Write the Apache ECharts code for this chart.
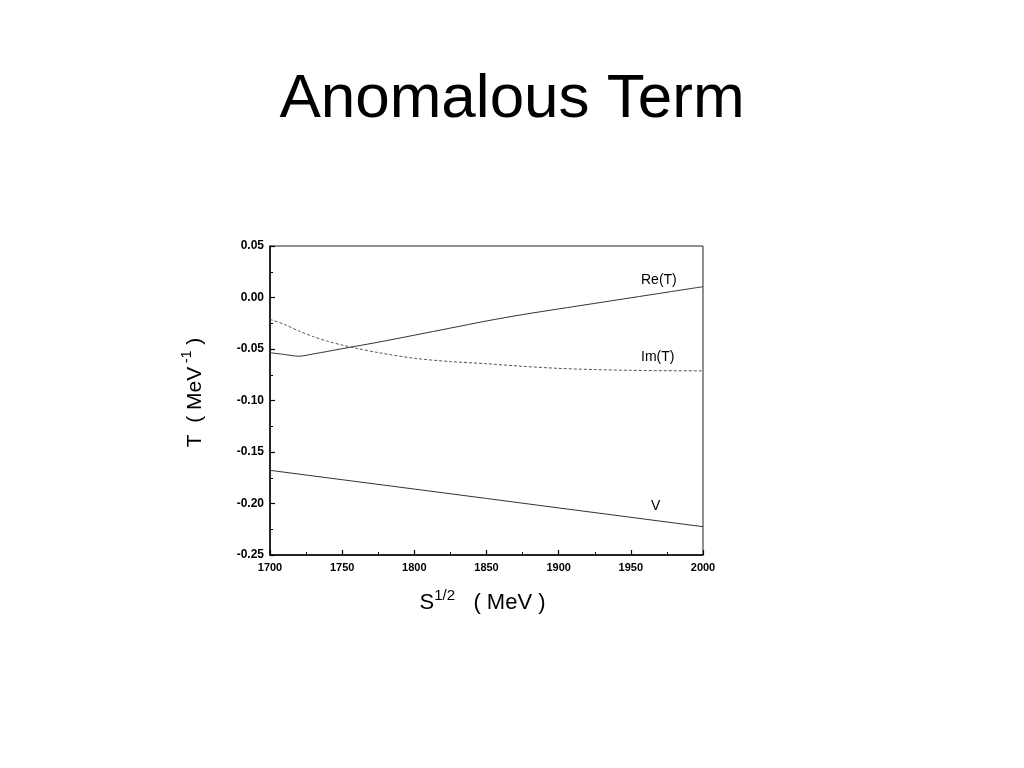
<!DOCTYPE html>
<html>
<head>
<meta charset="utf-8">
<script src="https://cdn.jsdelivr.net/npm/echarts@6/dist/echarts.min.js"></script>
<style>
html,body{margin:0;padding:0;background:#fff;}
#c{width:1024px;height:768px;}
</style>
</head>
<body>
<div id="c"></div>
<script>
// Data
const xRe = [1700,1710,1720,1730,1740,1750,1760,1775,1800,1825,1850,1875,1900,1925,1950,1975,2000];
const reT = [-0.0536,-0.0553,-0.0570,-0.0548,-0.0523,-0.0497,-0.0472,-0.0434,-0.0366,-0.0297,-0.0228,-0.0166,-0.0111,-0.0057,-0.0003,0.0051,0.0105];
const imT = [-0.0212,-0.0262,-0.0325,-0.0380,-0.0425,-0.0462,-0.0494,-0.0535,-0.0590,-0.0622,-0.0643,-0.0668,-0.0688,-0.0700,-0.0707,-0.0711,-0.0712];
const xV = [1700,1750,1800,1850,1900,1950,2000];
const vT = [-0.1678,-0.1769,-0.1860,-0.1951,-0.2043,-0.2134,-0.2225];
const xTicks = {min:1700, max:2000, step:50};
const yTicks = {min:-0.25, max:0.05, step:0.05};
const titleText = 'Anomalous Term';
const seriesLabels = ['Re(T)','Im(T)','V'];

const FONT = '"Liberation Sans", Arial, Helvetica, sans-serif';
const zip = (xs, ys) => xs.map((x,i)=>[x, ys[i]]);

const chart = echarts.init(document.getElementById('c'));
chart.setOption({
  animation:false,
  backgroundColor:'#fff',
  title:{
    text:titleText, left:'center', top:64,
    textStyle:{fontFamily:FONT, fontSize:62, fontWeight:'normal', color:'#000'}
  },
  grid:{left:270, right:321, top:246, bottom:213, show:true, borderColor:'#222', borderWidth:1, backgroundColor:'transparent'},
  xAxis:{
    type:'value', min:xTicks.min, max:xTicks.max, interval:xTicks.step,
    axisLine:{onZero:false, lineStyle:{color:'#000', width:1.5}},
    axisTick:{inside:true, length:5, lineStyle:{color:'#000', width:1.2}},
    minorTick:{show:true, splitNumber:2, length:3, lineStyle:{color:'#000', width:1}},
    splitLine:{show:false},
    axisLabel:{fontFamily:FONT, fontSize:11, fontWeight:'bold', color:'#000', margin:7,
      formatter:v=>String(v)},
    name:'{s|S}{sup|1/2}{s|   ( MeV )}',
    nameLocation:'middle', nameGap:33,
    nameTextStyle:{padding:[0,8,0,0], rich:{
      s:{fontFamily:FONT, fontSize:22, color:'#000', verticalAlign:'bottom', lineHeight:26},
      sup:{fontFamily:FONT, fontSize:15, color:'#000', verticalAlign:'top', lineHeight:26, padding:[0,0,11,0]}
    }}
  },
  yAxis:{
    type:'value', min:yTicks.min, max:yTicks.max, interval:yTicks.step,
    axisLine:{onZero:false, lineStyle:{color:'#000', width:1.5}},
    axisTick:{inside:true, length:5, lineStyle:{color:'#000', width:1.2}},
    minorTick:{show:true, splitNumber:2, length:3, lineStyle:{color:'#000', width:1}},
    splitLine:{show:false},
    axisLabel:{fontFamily:FONT, fontSize:12, fontWeight:'bold', color:'#000', margin:6,
      formatter:v=>v.toFixed(2)},
    name:'{s|T  ( MeV}{sup| -1}{s| )}',
    nameLocation:'middle', nameGap:64, nameRotate:90,
    nameTextStyle:{padding:[0,0,0,16], rich:{
      s:{fontFamily:FONT, fontSize:21, color:'#000', verticalAlign:'bottom', lineHeight:26},
      sup:{fontFamily:FONT, fontSize:14, color:'#000', verticalAlign:'top', lineHeight:26, padding:[0,0,11,0]}
    }}
  },
  series:[
    {name:seriesLabels[0], type:'line', data:zip(xRe, reT), smooth:0.3, symbol:'none',
      lineStyle:{color:'#333', width:1}},
    {name:seriesLabels[1], type:'line', data:zip(xRe, imT), smooth:0.3, symbol:'none',
      lineStyle:{color:'#555', width:1, type:[3,2]}},
    {name:seriesLabels[2], type:'line', data:zip(xV, vT), symbol:'none',
      lineStyle:{color:'#333', width:1}}
  ],
  graphic:[
    {type:'text', left:641, top:273, style:{text:seriesLabels[0], font:'14px '+FONT, fill:'#000'}},
    {type:'text', left:641, top:350, style:{text:seriesLabels[1], font:'14px '+FONT, fill:'#000'}},
    {type:'text', left:651, top:499, style:{text:seriesLabels[2], font:'14px '+FONT, fill:'#000'}}
  ]
});
</script>
</body>
</html>
